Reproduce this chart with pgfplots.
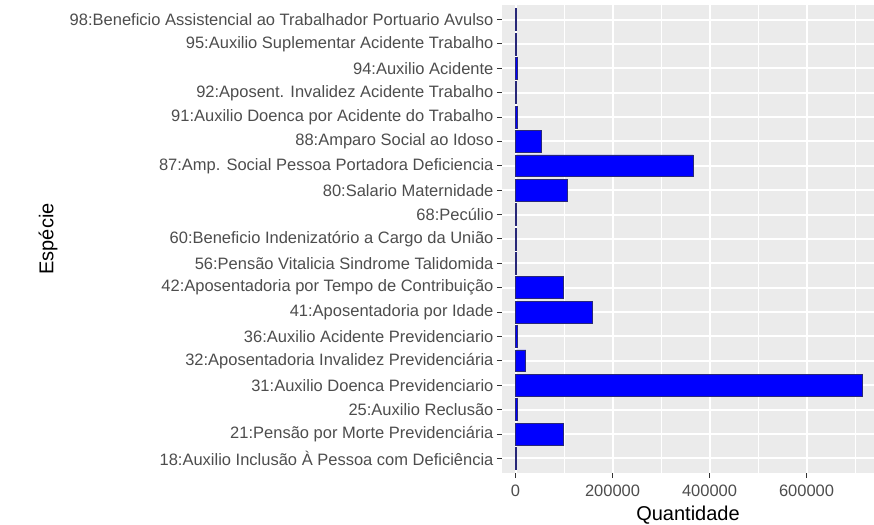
\documentclass[border=0pt]{standalone}
\usepackage{pgfplots}
\pgfplotsset{compat=1.18}
\usepackage{fontspec}
\setmainfont{Liberation Sans}
\definecolor{panelbg}{HTML}{EBEBEB}
\definecolor{ticktext}{HTML}{4D4D4D}
\definecolor{tickcol}{HTML}{333333}
\definecolor{barline}{RGB}{40,40,120}
\begin{document}
\begin{tikzpicture}
\path[use as bounding box] (-502pt,-51pt) rectangle (372pt,473pt);
\begin{axis}[
  at={(0pt,0pt)}, anchor=south west,
  scale only axis,
  width=372pt, height=468pt,
  xmin=-28000, xmax=739000,
  ymin=0.4, ymax=19.6,
  axis background/.style={fill=panelbg},
  axis line style={draw=none},
  xbar, bar width=0.9,
  xtick={0,200000,400000,600000},
  xticklabels={0,200000,400000,600000},
  minor xtick={100000,300000,500000,700000},
  scaled ticks=false,
  ytick={1,...,19},
  yticklabels={
    18:Auxilio Inclusão À Pessoa com Deficiência,
    21:Pensão por Morte Previdenciária,
    25:Auxilio Reclusão,
    31:Auxilio Doenca Previdenciario,
    32:Aposentadoria Invalidez Previdenciária,
    36:Auxilio Acidente Previdenciario,
    41:Aposentadoria por Idade,
    42:Aposentadoria por Tempo de Contribuição,
    56:Pensão Vitalicia Sindrome Talidomida,
    60:Beneficio Indenizatório a Cargo da União,
    68:Pecúlio,
    80:Salario Maternidade,
    87:Amp. Social Pessoa Portadora Deficiencia,
    88:Amparo Social ao Idoso,
    91:Auxilio Doenca por Acidente do Trabalho,
    92:Aposent. Invalidez Acidente Trabalho,
    94:Auxilio Acidente,
    95:Auxilio Suplementar Acidente Trabalho,
    98:Beneficio Assistencial ao Trabalhador Portuario Avulso},
  grid=both,
  major grid style={white, line width=2pt},
  minor grid style={white, line width=1pt},
  tick align=outside,
  major tick length=5pt,
  minor tick length=0pt,
  tick style={tickcol, line width=1pt},
  xtick pos=bottom, ytick pos=left,
  ticklabel style={font=\fontsize{16.5}{19}\selectfont, text=ticktext},
  xticklabel style={yshift=-3pt},
  /pgf/number format/assume math mode=true,
  xlabel={Quantidade},
  ylabel={Espécie},
  label style={font=\fontsize{20}{24}\selectfont, text=black},
  xlabel style={yshift=-3pt},
  ylabel style={at={(axis description cs:-1.22,0.5)}, anchor=center},
]
\addplot[fill=blue, draw=barline, line width=0.8pt] coordinates {
  (2000,1) (99000,2) (4000,3) (716000,4) (21000,5) (4000,6)
  (158000,7) (99000,8) (1500,9) (2500,10) (1500,11) (107000,12)
  (366000,13) (53500,14) (3500,15) (2500,16) (3000,17) (2000,18) (2000,19)
};
\end{axis}
\end{tikzpicture}
\end{document}
